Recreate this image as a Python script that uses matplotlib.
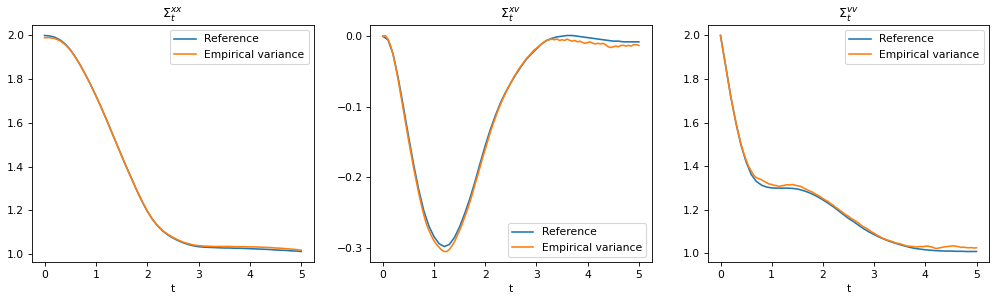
import numpy as np
import matplotlib
matplotlib.use("Agg")
import matplotlib.pyplot as plt
from matplotlib.ticker import MultipleLocator

# time grids
t_coarse = np.linspace(0, 5, 51)
t_fine = np.linspace(0, 5, 101)

# Sigma^xx
xx_ref = [2.000, 1.998, 1.992, 1.980, 1.962, 1.936, 1.902, 1.863, 1.820, 1.774,
          1.725, 1.673, 1.619, 1.563, 1.507, 1.451, 1.396, 1.343, 1.290, 1.241,
          1.197, 1.160, 1.130, 1.106, 1.088, 1.074, 1.062, 1.052, 1.044, 1.038,
          1.034, 1.032, 1.031, 1.030, 1.029, 1.028, 1.028, 1.027, 1.027, 1.026,
          1.025, 1.024, 1.023, 1.022, 1.021, 1.019, 1.018, 1.017, 1.015, 1.014,
          1.012]
xx_emp = [1.990, 1.990, 1.986, 1.976, 1.959, 1.934, 1.901, 1.862, 1.820, 1.774,
          1.725, 1.673, 1.619, 1.563, 1.507, 1.451, 1.396, 1.343, 1.291, 1.242,
          1.198, 1.161, 1.131, 1.108, 1.091, 1.077, 1.065, 1.055, 1.048, 1.042,
          1.039, 1.037, 1.036, 1.035, 1.035, 1.035, 1.035, 1.034, 1.034, 1.034,
          1.033, 1.033, 1.032, 1.031, 1.030, 1.028, 1.027, 1.025, 1.023, 1.021,
          1.018]

# Sigma^xv
xv_ref = [0.000, -0.005, -0.025, -0.059, -0.099, -0.141, -0.181, -0.217, -0.247, -0.269,
          -0.284, -0.294, -0.298, -0.295, -0.285, -0.270, -0.251, -0.230, -0.206, -0.180,
          -0.155, -0.132, -0.112, -0.094, -0.079, -0.066, -0.054, -0.043, -0.033, -0.025,
          -0.018, -0.011, -0.006, -0.003, -0.001, 0.000, 0.001, 0.001, 0.000, -0.001,
          -0.002, -0.003, -0.004, -0.005, -0.006, -0.007, -0.007, -0.008, -0.008, -0.008,
          -0.008]
xv_emp = [0.000, 0.001, -0.004, -0.013, -0.026, -0.043, -0.062, -0.083, -0.104, -0.125,
          -0.146, -0.166, -0.186, -0.204, -0.222, -0.238, -0.253, -0.266, -0.275, -0.283,
          -0.290, -0.295, -0.299, -0.303, -0.305, -0.305, -0.302, -0.297, -0.291, -0.283,
          -0.275, -0.266, -0.256, -0.246, -0.235, -0.223, -0.210, -0.198, -0.185, -0.172,
          -0.160, -0.148, -0.136, -0.125, -0.115, -0.105, -0.096, -0.088, -0.080, -0.073,
          -0.066, -0.059, -0.053, -0.047, -0.042, -0.037, -0.032, -0.028, -0.024, -0.020,
          -0.017, -0.014, -0.011, -0.008, -0.006, -0.005, -0.004, -0.005, -0.004, -0.006,
          -0.005, -0.006, -0.004, -0.006, -0.007, -0.006, -0.008, -0.007, -0.009, -0.010,
          -0.009, -0.008, -0.010, -0.011, -0.010, -0.011, -0.010, -0.012, -0.015, -0.016,
          -0.015, -0.014, -0.015, -0.013, -0.013, -0.014, -0.013, -0.014, -0.012, -0.012,
          -0.013]

# Sigma^vv
vv_ref = [2.000, 1.862, 1.720, 1.600, 1.497, 1.420, 1.362, 1.330, 1.313, 1.304,
          1.300, 1.299, 1.299, 1.299, 1.298, 1.295, 1.289, 1.281, 1.271, 1.259,
          1.245, 1.230, 1.214, 1.196, 1.178, 1.160, 1.145, 1.128, 1.112, 1.098,
          1.086, 1.074, 1.064, 1.055, 1.047, 1.040, 1.033, 1.027, 1.022, 1.019,
          1.016, 1.014, 1.012, 1.011, 1.010, 1.010, 1.009, 1.009, 1.008, 1.008,
          1.008]
vv_emp = [2.000, 1.928, 1.862, 1.789, 1.722, 1.660, 1.603, 1.550, 1.502, 1.462,
          1.428, 1.398, 1.378, 1.358, 1.347, 1.342, 1.338, 1.330, 1.324, 1.318,
          1.316, 1.312, 1.310, 1.307, 1.310, 1.312, 1.315, 1.313, 1.316, 1.313,
          1.310, 1.308, 1.303, 1.296, 1.291, 1.285, 1.280, 1.272, 1.266, 1.259,
          1.251, 1.244, 1.238, 1.228, 1.221, 1.211, 1.203, 1.194, 1.185, 1.176,
          1.170, 1.160, 1.153, 1.146, 1.138, 1.128, 1.120, 1.115, 1.107, 1.098,
          1.092, 1.084, 1.078, 1.071, 1.066, 1.061, 1.058, 1.054, 1.049, 1.046,
          1.044, 1.040, 1.036, 1.033, 1.032, 1.031, 1.029, 1.029, 1.031, 1.030,
          1.032, 1.033, 1.030, 1.027, 1.022, 1.023, 1.026, 1.028, 1.030, 1.031,
          1.033, 1.034, 1.032, 1.030, 1.027, 1.028, 1.026, 1.025, 1.026, 1.024,
          1.025]

titles = [r'$\Sigma_t^{xx}$', r'$\Sigma_t^{xv}$', r'$\Sigma_t^{vv}$']
legend_labels = ['Reference', 'Empirical variance']
y_steps = [0.2, 0.1, 0.2]

panels = [
    (t_coarse, xx_ref, t_coarse, xx_emp, 'upper right'),
    (t_coarse, xv_ref, t_fine, xv_emp, 'lower right'),
    (t_coarse, vv_ref, t_fine, vv_emp, 'upper right'),
]

DPI = 77
fig = plt.figure(figsize=(997 / DPI, 305 / DPI), dpi=DPI)
lefts = [31.7, 370.0, 707.7]
widths = [282.3, 281.7, 281.6]
bottom = (305 - 262.3) / 305
height = (262.3 - 24.7) / 305

for i, (tr, ref, te, emp, loc) in enumerate(panels):
    ax = fig.add_axes([lefts[i] / 997, bottom, widths[i] / 997, height])
    ax.plot(tr, ref, color='C0', lw=1.5, label=legend_labels[0])
    ax.plot(te, emp, color='C1', lw=1.5, label=legend_labels[1])
    ax.set_title(titles[i])
    ax.set_xlabel('t')
    ax.yaxis.set_major_locator(MultipleLocator(y_steps[i]))
    ax.legend(loc=loc)

fig.savefig('out.png', dpi=DPI)
